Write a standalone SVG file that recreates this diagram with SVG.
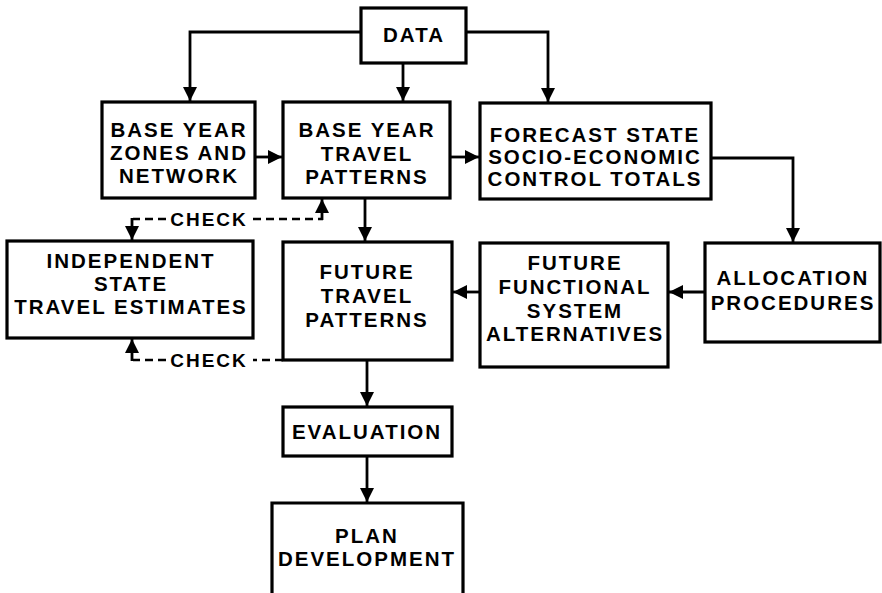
<svg xmlns="http://www.w3.org/2000/svg" width="882" height="593" viewBox="0 0 882 593">
  <style>
    .box { fill: #fff; stroke: #000; stroke-width: 3.2; }
    .lbl { font-family: "Liberation Sans", Arial, sans-serif; font-weight: bold; font-size: 20.5px; letter-spacing: 2px; text-anchor: middle; fill: #000; }
    .chk { font-family: "Liberation Sans", Arial, sans-serif; font-weight: bold; font-size: 19px; letter-spacing: 2px; text-anchor: middle; fill: #000; }
    .ln { fill: none; stroke: #000; stroke-width: 2.8; }
    .dash { fill: none; stroke: #000; stroke-width: 2.6; stroke-dasharray: 8 5; }
  </style>
  <defs>
    <marker id="ah" viewBox="0 0 10 10" refX="10" refY="5" markerWidth="5" markerHeight="5" markerUnits="strokeWidth" orient="auto">
      <path d="M0,0 L10,5 L0,10 Z" fill="#000"/>
    </marker>
  </defs>
  <rect width="882" height="593" fill="#fff"/>

  <g id="connectors">
    <path class="ln" d="M360,32 H190 V101" marker-end="url(#ah)"/>
    <path class="ln" d="M403,63 V101" marker-end="url(#ah)"/>
    <path class="ln" d="M466,32 H548 V102" marker-end="url(#ah)"/>
    <path class="ln" d="M255,157 H282" marker-end="url(#ah)"/>
    <path class="ln" d="M450,157 H479" marker-end="url(#ah)"/>
    <path class="ln" d="M711,158 H793 V242" marker-end="url(#ah)"/>
    <path class="ln" d="M705,292 H669" marker-end="url(#ah)"/>
    <path class="ln" d="M480,292 H453" marker-end="url(#ah)"/>
    <path class="ln" d="M365,198 V241" marker-end="url(#ah)"/>
    <path class="ln" d="M367,360 V406" marker-end="url(#ah)"/>
    <path class="ln" d="M367,456 V502" marker-end="url(#ah)"/>
    <!-- check loops between travel patterns and the independent estimates -->
    <path class="dash" d="M253,219 H323"/>
    <path class="ln" d="M322,220 V199" marker-end="url(#ah)"/>
    <path class="dash" d="M166,219 H133"/>
    <path class="ln" d="M132,218 V240" marker-end="url(#ah)"/>
    <text class="chk" x="209" y="226">CHECK</text>
    <path class="dash" d="M283,360 H253"/>
    <path class="dash" d="M166,360 H133"/>
    <path class="ln" d="M132,361 V339" marker-end="url(#ah)"/>
    <text class="chk" x="209" y="367">CHECK</text>
  </g>

  <g id="data">
    <rect class="box" x="361" y="8" width="105" height="55"/>
    <text class="lbl" x="414" y="42">DATA</text>
  </g>
  <g id="zones">
    <rect class="box" x="102" y="102" width="153" height="96"/>
    <text class="lbl" x="179" y="137">BASE YEAR</text>
    <text class="lbl" x="179" y="160">ZONES AND</text>
    <text class="lbl" x="179" y="183">NETWORK</text>
  </g>
  <g id="base-travel">
    <rect class="box" x="283" y="102" width="167" height="96"/>
    <text class="lbl" x="367" y="137">BASE YEAR</text>
    <text class="lbl" x="367" y="161">TRAVEL</text>
    <text class="lbl" x="367" y="184">PATTERNS</text>
  </g>
  <g id="forecast">
    <rect class="box" x="480" y="103" width="231" height="96"/>
    <text class="lbl" x="595" y="142">FORECAST STATE</text>
    <text class="lbl" x="595" y="164">SOCIO-ECONOMIC</text>
    <text class="lbl" x="595" y="186">CONTROL TOTALS</text>
  </g>
  <g id="independent">
    <rect class="box" x="7" y="241" width="246" height="97"/>
    <text class="lbl" x="131" y="268">INDEPENDENT</text>
    <text class="lbl" x="131" y="291">STATE</text>
    <text class="lbl" x="131" y="314">TRAVEL ESTIMATES</text>
  </g>
  <g id="future-travel">
    <rect class="box" x="283" y="242" width="169" height="118"/>
    <text class="lbl" x="367" y="279">FUTURE</text>
    <text class="lbl" x="367" y="303">TRAVEL</text>
    <text class="lbl" x="367" y="327">PATTERNS</text>
  </g>
  <g id="functional">
    <rect class="box" x="480" y="243" width="188" height="124"/>
    <text class="lbl" x="575" y="270">FUTURE</text>
    <text class="lbl" x="575" y="294">FUNCTIONAL</text>
    <text class="lbl" x="575" y="318">SYSTEM</text>
    <text class="lbl" x="575" y="341">ALTERNATIVES</text>
  </g>
  <g id="allocation">
    <rect class="box" x="705" y="243" width="175" height="99"/>
    <text class="lbl" x="793" y="285">ALLOCATION</text>
    <text class="lbl" x="793" y="310">PROCEDURES</text>
  </g>
  <g id="evaluation">
    <rect class="box" x="283" y="407" width="169" height="49"/>
    <text class="lbl" x="367" y="439">EVALUATION</text>
  </g>
  <g id="plan">
    <path class="box" d="M272,600 V503 H463 V600"/>
    <text class="lbl" x="367" y="543">PLAN</text>
    <text class="lbl" x="367" y="566">DEVELOPMENT</text>
  </g>
</svg>
